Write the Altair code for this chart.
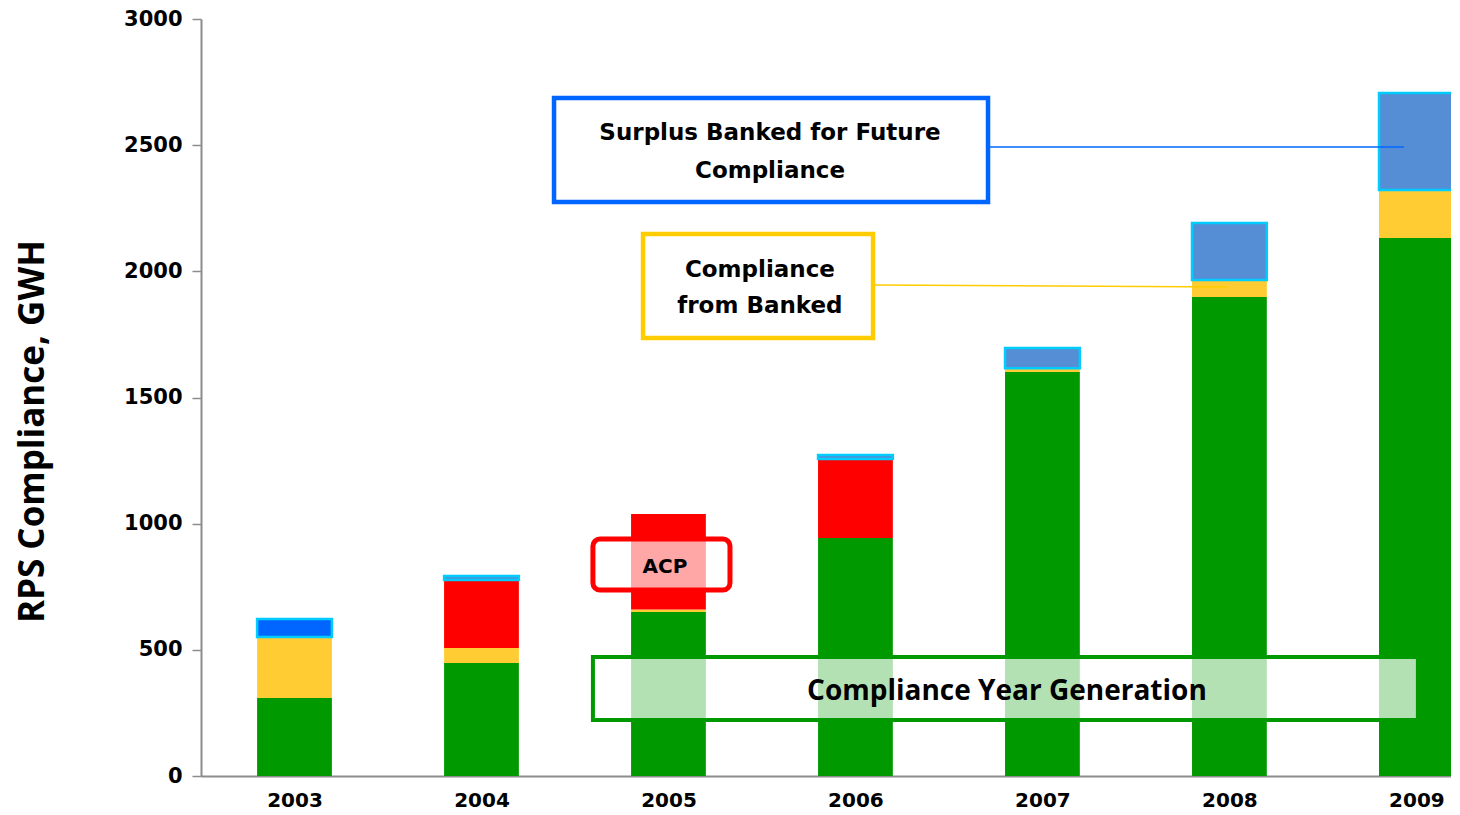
import altair as alt
import pandas as pd

years = [2003, 2004, 2005, 2006, 2007, 2008, 2009]
generation = [309, 448, 650, 943, 1601, 1898, 2132]
banked = [242, 59, 10, 0, 12, 68, 190]
acp = [0, 270, 378, 313, 3, 0, 0]
surplus = [71, 16, 0, 16, 80, 226, 385]

segments = ["Compliance Year Generation", "Compliance from Banked", "ACP", "Surplus Banked"]
seg_colors = ["#009900", "#FFCC33", "#FF0000", "#558ED5"]

rows = []
for i, yr in enumerate(years):
    base = 0
    for seg, vals in zip(segments, [generation, banked, acp, surplus]):
        v = vals[i]
        if v > 0:
            rows.append({"year": yr, "segment": seg, "y0": base, "y1": base + v})
        base += v
df = pd.DataFrame(rows)

XDOM = [2002.5, 2009.185]

xs = alt.Scale(domain=XDOM, nice=False, zero=False)
ys = alt.Scale(domain=[0, 3000], nice=False)

WIDE = "DejaVu Sans"
COND = "Open Sans"

bars = alt.Chart(df).transform_calculate(
    xa="datum.year - 0.2", xb="datum.year + 0.2"
).mark_rect(clip=True).encode(
    x=alt.X("xa:Q", scale=xs, axis=alt.Axis(
        values=years, format="d", title=None, ticks=False, grid=False,
        labelFont=WIDE, labelFontWeight="bold", labelFontSize=20,
        labelColor="black", labelPadding=14, domainColor="#8c8c8c", domainWidth=2)),
    x2="xb:Q",
    y=alt.Y("y0:Q", scale=ys, axis=alt.Axis(
        values=[0, 500, 1000, 1500, 2000, 2500, 3000], format="d", title="RPS Compliance, GWH",
        grid=False, tickSize=9, tickColor="#8c8c8c", tickWidth=1.5,
        domainColor="#8c8c8c", domainWidth=2,
        labelFont=WIDE, labelFontWeight="bold", labelFontSize=21,
        labelColor="black", labelPadding=10,
        titleFont=COND, titleFontWeight="bold",
        titleFontSize=35, titleColor="black", titlePadding=73, titleY=412)),
    y2="y1:Q",
    color=alt.condition(
        "datum.year == 2003 && datum.segment == 'Surplus Banked'",
        alt.value("#0066FF"),
        alt.Color("segment:N", scale=alt.Scale(domain=segments, range=seg_colors), legend=None)),
    stroke=alt.condition("datum.segment == 'Surplus Banked'", alt.value("#00CCFF"), alt.value(None)),
    strokeWidth=alt.condition("datum.segment == 'Surplus Banked'", alt.value(2.5), alt.value(0)),
)

def box(x0, x1, y0, y1, **kw):
    return alt.Chart(pd.DataFrame([{"x0": x0, "x1": x1, "y0": y0, "y1": y1}])).mark_rect(**kw).encode(
        x=alt.X("x0:Q", scale=xs), x2="x1:Q", y=alt.Y("y0:Q", scale=ys), y2="y1:Q")

def line(x0, x1, y0, y1, **kw):
    return alt.Chart(pd.DataFrame([{"x0": x0, "x1": x1, "y0": y0, "y1": y1}])).mark_rule(**kw).encode(
        x=alt.X("x0:Q", scale=xs), x2="x1:Q", y=alt.Y("y0:Q", scale=ys), y2="y1:Q")

green_box = box(2004.596, 2009.008, 222, 472, fill="white", fillOpacity=0.7,
                stroke="#009900", strokeWidth=4, clip=True)
acp_box = box(2004.596, 2005.329, 737, 939, fill="white", fillOpacity=0.65,
              stroke="#FF0000", strokeWidth=5, cornerRadius=7)
blue_box = box(2004.388, 2006.709, 2275, 2687, fill="white", stroke="#0066FF", strokeWidth=4.5)
yellow_box = box(2004.864, 2006.094, 1736, 2148, fill="white", stroke="#FFCC00", strokeWidth=4.5)
blue_line = line(2006.709, 2008.933, 2493, 2493, color="#0066FF", strokeWidth=1.5)
yellow_line = line(2006.094, 2007.992, 1946, 1938, color="#FFCC00", strokeWidth=1.5)

texts = pd.DataFrame([
    {"x": 2005.543, "y": 2548, "t": "Surplus Banked for Future"},
    {"x": 2005.543, "y": 2398, "t": "Compliance"},
    {"x": 2005.489, "y": 2005, "t": "Compliance"},
    {"x": 2005.489, "y": 1863, "t": "from Banked"},
])
box_text = alt.Chart(texts).mark_text(
    font=WIDE, fontWeight="bold", fontSize=23, color="black", baseline="middle", align="center"
).encode(x=alt.X("x:Q", scale=xs), y=alt.Y("y:Q", scale=ys), text="t:N")

acp_text = alt.Chart(pd.DataFrame([{"x": 2004.981, "y": 828, "t": "ACP"}])).mark_text(
    font=WIDE, fontWeight="bold", fontSize=20, color="black", baseline="middle", align="center"
).encode(x=alt.X("x:Q", scale=xs), y=alt.Y("y:Q", scale=ys), text="t:N")

green_text = alt.Chart(pd.DataFrame([{"x": 2006.81, "y": 333, "t": "Compliance Year Generation"}])).mark_text(
    font=COND, fontWeight="bold", fontSize=28, color="black", baseline="middle", align="center"
).encode(x=alt.X("x:Q", scale=xs), y=alt.Y("y:Q", scale=ys), text="t:N")

chart = alt.layer(
    bars, green_box, acp_box, green_text, acp_text,
    blue_line, yellow_line, blue_box, yellow_box, box_text
).properties(
    width=1250, height=757, background="white",
    padding={"left": 7, "top": 0, "right": 0, "bottom": 0}
).configure_view(stroke=None)

chart.save("out.html", embed_options={"renderer": "svg", "actions": False})
